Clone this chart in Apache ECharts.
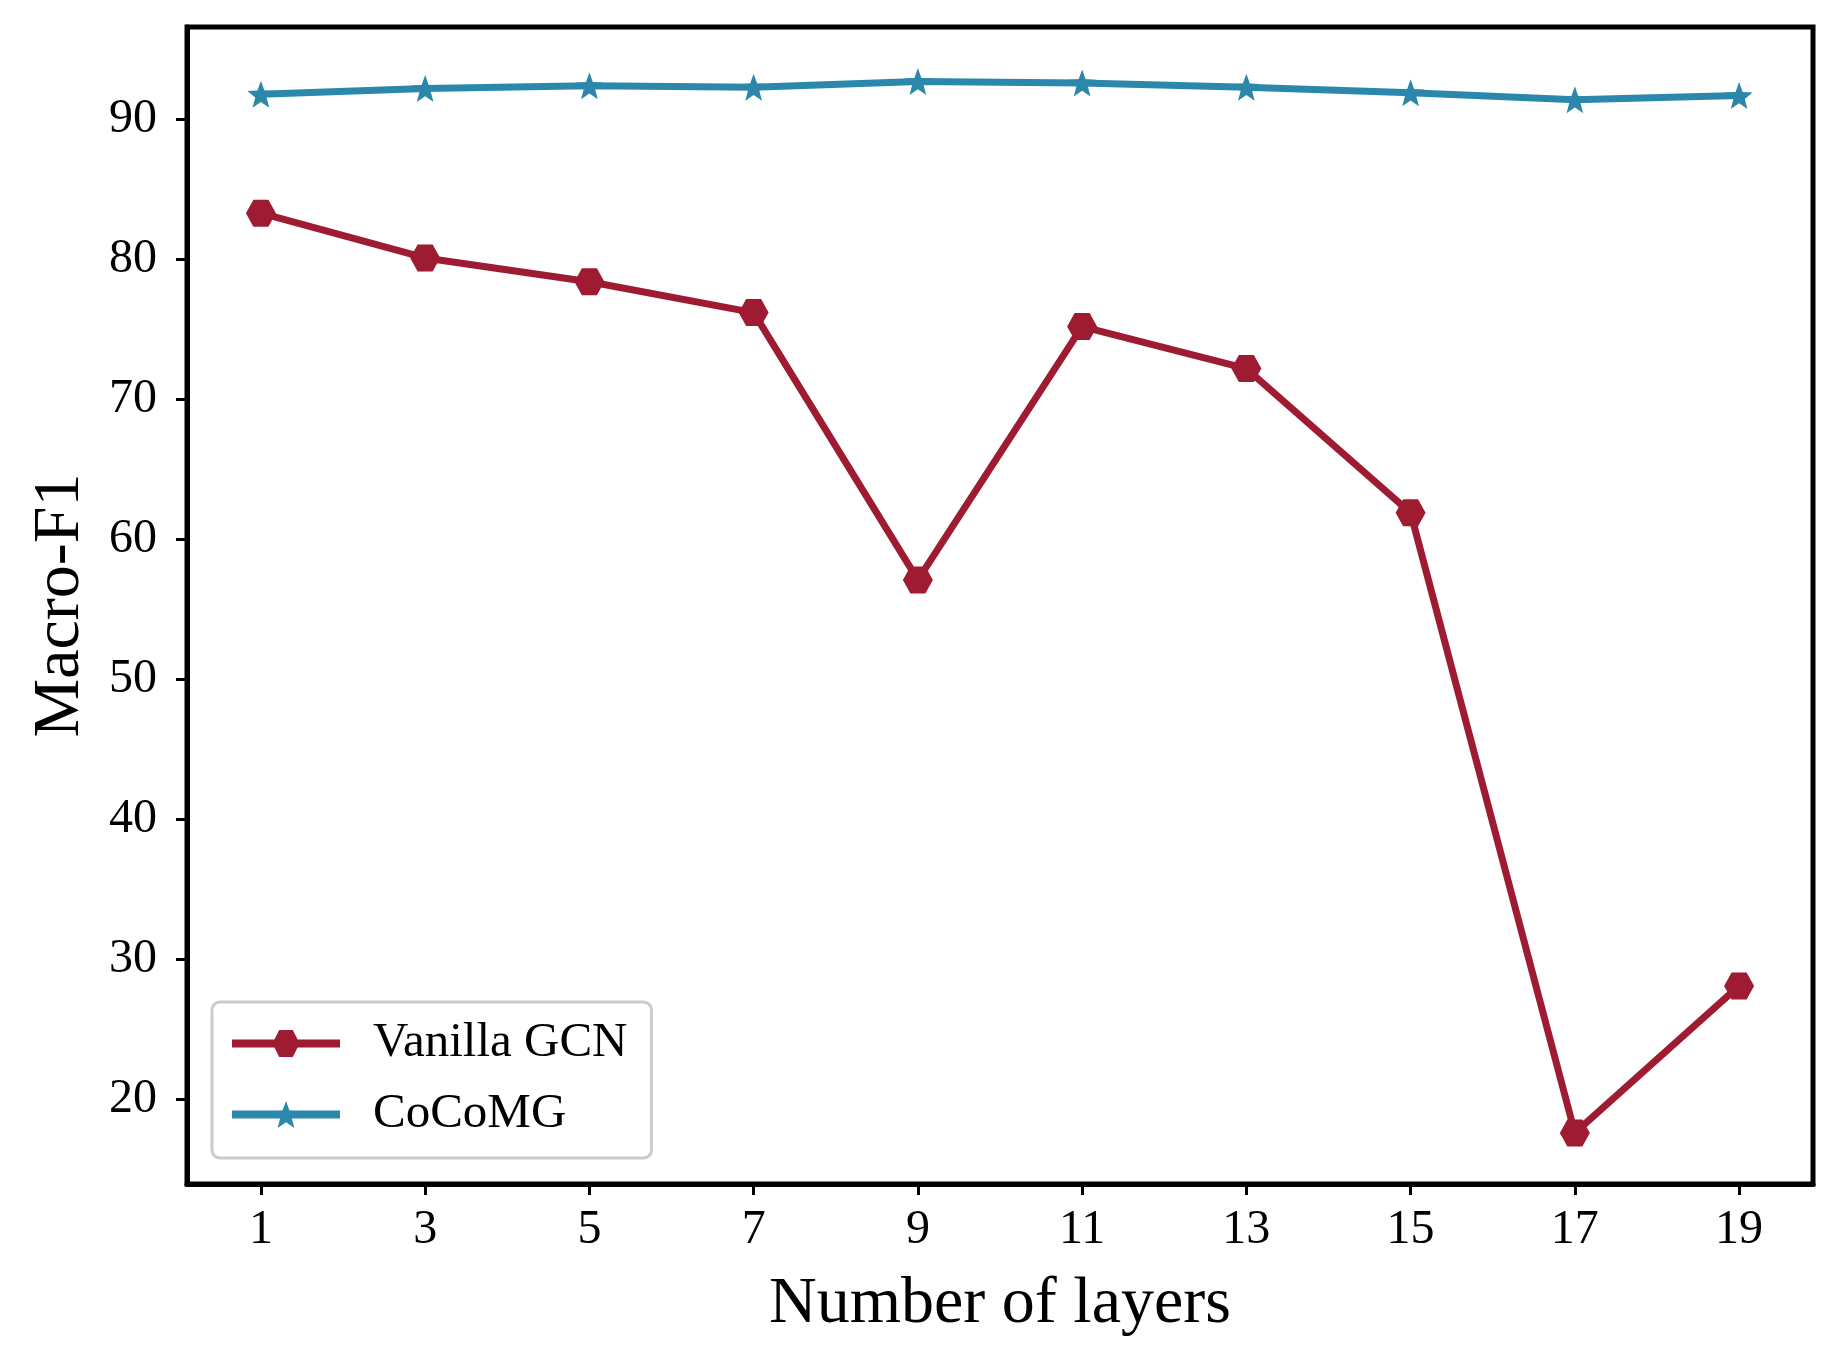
<!DOCTYPE html>
<html>
<head>
<meta charset="utf-8">
<title>Macro-F1 vs number of layers</title>
<script src="https://cdn.jsdelivr.net/npm/echarts@6/dist/echarts.min.js"></script>
<style>
  html, body { margin: 0; padding: 0; background: #fff; }
  #chart { width: 1844px; height: 1367px; }
</style>
</head>
<body>
<div id="chart"></div>
<script>
// 数据
var layers = [1, 3, 5, 7, 9, 11, 13, 15, 17, 19];
var vanillaGCN = [83.3, 80.1, 78.4, 76.2, 57.1, 75.2, 72.2, 61.9, 17.6, 28.1];
var cocomg = [91.8, 92.2, 92.4, 92.3, 92.7, 92.6, 92.3, 91.9, 91.4, 91.7];
var xTicks = [1, 3, 5, 7, 9, 11, 13, 15, 17, 19];
var yTicks = [20, 30, 40, 50, 60, 70, 80, 90];

var FONT = 'Liberation Serif';

// 六边形 / 五角星 标记
var hexPath = 'path://M-1,0 L-0.5,-0.866 L0.5,-0.866 L1,0 L0.5,0.866 L-0.5,0.866 Z';
function starPath() {
    var pts = [];
    for (var i = 0; i < 10; i++) {
        var r = i % 2 === 0 ? 1 : 0.42;
        var a = -Math.PI / 2 + i * Math.PI / 5;
        pts.push((r * Math.cos(a)).toFixed(3) + ',' + (r * Math.sin(a)).toFixed(3));
    }
    return 'path://M' + pts.join(' L') + ' Z';
}

function pairs(xs, ys) {
    return xs.map(function (x, i) { return [x, ys[i]]; });
}

var chart = echarts.init(document.getElementById('chart'));
chart.setOption({
    animation: false,
    backgroundColor: '#fff',
    grid: {
        left: 187, right: 31, top: 27, bottom: 183,
        show: true, borderColor: '#000', borderWidth: 5
    },
    legend: {
        orient: 'vertical',
        left: 212, top: 1002,
        padding: [17, 24, 19, 16],
        itemGap: 22,
        itemWidth: 108,
        itemHeight: 34,
        backgroundColor: '#fff',
        borderColor: '#cccccc',
        borderWidth: 3,
        borderRadius: 8,
        lineStyle: { width: 8 },
        textStyle: { fontFamily: FONT, fontSize: 49, color: '#000', padding: [0, 0, 0, 28] },
        data: ['Vanilla GCN', 'CoCoMG']
    },
    xAxis: {
        type: 'value',
        min: 0.1, max: 19.9,
        name: 'Number of layers',
        nameLocation: 'middle',
        nameGap: 88,
        nameTextStyle: { fontFamily: FONT, fontSize: 66, color: '#000' },
        axisLine: { show: true, lineStyle: { color: '#000', width: 5 } },
        axisTick: { show: true, inside: false, length: 11, lineStyle: { color: '#000', width: 3 }, customValues: xTicks },
        axisLabel: { fontFamily: FONT, fontSize: 48, color: '#000', margin: 22, customValues: xTicks },
        splitLine: { show: false }
    },
    yAxis: {
        type: 'value',
        min: 13.95, max: 96.6,
        name: 'Macro-F1',
        nameLocation: 'middle',
        nameGap: 93,
        nameTextStyle: { fontFamily: FONT, fontSize: 66, color: '#000' },
        axisLine: { show: true, lineStyle: { color: '#000', width: 5 } },
        axisTick: { show: true, inside: false, length: 11, lineStyle: { color: '#000', width: 3 }, customValues: yTicks },
        axisLabel: { fontFamily: FONT, fontSize: 48, color: '#000', margin: 30, customValues: yTicks },
        splitLine: { show: false }
    },
    series: [
        {
            name: 'Vanilla GCN',
            type: 'line',
            data: pairs(layers, vanillaGCN),
            symbol: hexPath,
            symbolSize: [30, 27],
            lineStyle: { color: '#9e1b32', width: 7 },
            itemStyle: { color: '#9e1b32' }
        },
        {
            name: 'CoCoMG',
            type: 'line',
            data: pairs(layers, cocomg),
            symbol: starPath(),
            symbolSize: [27, 27],
            lineStyle: { color: '#2b88ab', width: 7 },
            itemStyle: { color: '#2b88ab' }
        }
    ]
});
</script>
</body>
</html>
